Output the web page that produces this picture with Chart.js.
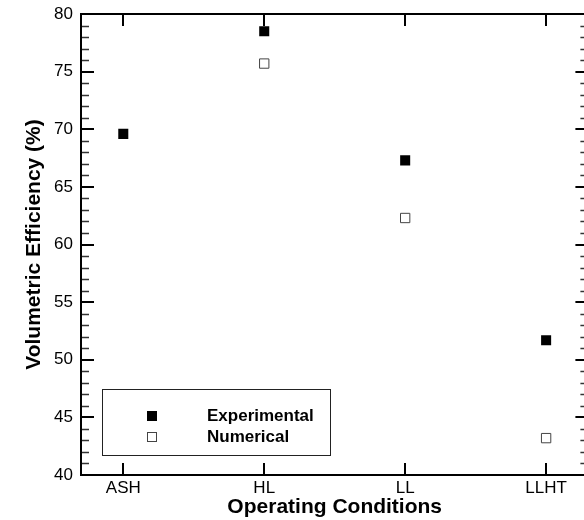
<!DOCTYPE html>
<html>
<head>
<meta charset="utf-8">
<script src="https://cdn.jsdelivr.net/npm/chart.js@4.4.0/dist/chart.umd.min.js"></script>
<style>
  html, body { margin: 0; padding: 0; background: #fff; overflow: hidden; }
  canvas { display: block; }
</style>
</head>
<body>
<canvas id="effChart" width="596" height="520"></canvas>
<script>
// data
const conditions = ['ASH', 'HL', 'LL', 'LLHT'];
const conditionPos = [1, 2, 3, 4];
const experimental = [69.6, 78.5, 67.3, 51.7];
const numerical = [null, 75.7, 62.3, 43.2];   // ASH numerical not visible (hidden / missing)
const yMin = 40, yMax = 80, yStep = 5, yMinorStep = 1;

const seriesNames = ['Experimental', 'Numerical'];

function toPoints(vals) {
    return conditionPos.map((p, i) => ({ x: p, y: vals[i] }));
}

// frame with inward ticks on all four sides + boxed legend
const frameTicks = {
    id: 'frameTicks',
    afterDatasetsDraw(chart) {
        const { ctx, chartArea: a, scales: { x, y } } = chart;
        ctx.save();

        // minor y ticks
        ctx.lineWidth = 1.5;
        ctx.strokeStyle = '#333';
        for (let v = yMin; v <= yMax; v += yMinorStep) {
            if (v % yStep === 0) continue;
            const py = Math.round(y.getPixelForValue(v)) + 0.5;
            ctx.beginPath();
            ctx.moveTo(a.left, py); ctx.lineTo(a.left + 8, py);
            ctx.moveTo(a.right, py); ctx.lineTo(a.right - 8, py);
            ctx.stroke();
        }

        // major y ticks
        ctx.strokeStyle = '#000';
        ctx.lineWidth = 2;
        y.ticks.forEach(t => {
            const py = Math.round(y.getPixelForValue(t.value));
            ctx.beginPath();
            ctx.moveTo(a.left, py); ctx.lineTo(a.left + 13, py);
            ctx.moveTo(a.right, py); ctx.lineTo(a.right - 13, py);
            ctx.stroke();
        });

        // x ticks, top and bottom
        conditionPos.forEach(p => {
            const px = Math.round(x.getPixelForValue(p));
            ctx.beginPath();
            ctx.moveTo(px, a.top); ctx.lineTo(px, a.top + 12);
            ctx.moveTo(px, a.bottom); ctx.lineTo(px, a.bottom - 12);
            ctx.stroke();
        });

        // frame
        ctx.lineWidth = 2;
        ctx.strokeRect(Math.round(a.left), Math.round(a.top), Math.round(a.right - a.left), Math.round(a.bottom - a.top));

        // legend box
        const bx = a.left + 21, by = a.bottom - 86;
        ctx.lineWidth = 1;
        ctx.strokeStyle = '#222';
        ctx.fillStyle = '#fff';
        ctx.fillRect(bx, by, 228, 66);
        ctx.strokeRect(bx + 0.5, by + 0.5, 228, 66);

        const mx = a.left + 71;
        const rows = [a.bottom - 59, a.bottom - 38];
        ctx.fillStyle = '#000';
        ctx.fillRect(mx - 5, rows[0] - 5, 10, 10);
        ctx.strokeStyle = '#444';
        ctx.strokeRect(mx - 4.5, rows[1] - 4.5, 9, 9);

        ctx.fillStyle = '#000';
        ctx.font = 'bold 17px "Liberation Sans", Arial, sans-serif';
        ctx.textBaseline = 'middle';
        ctx.textAlign = 'left';
        seriesNames.forEach((n, i) => ctx.fillText(n, a.left + 126, rows[i]));
        ctx.restore();
    }
};

const ctx = document.getElementById('effChart').getContext('2d');

const effChart = new Chart(ctx, {
    type: 'scatter',
    data: {
        datasets: [
            {
                label: seriesNames[1],
                data: toPoints(numerical),
                pointStyle: 'rect',
                pointRadius: 6.6,
                backgroundColor: '#fff',
                borderColor: '#444',
                borderWidth: 1
            },
            {
                label: seriesNames[0],
                data: toPoints(experimental),
                pointStyle: 'rect',
                pointRadius: 7.1,
                backgroundColor: '#000',
                borderColor: '#000',
                borderWidth: 0
            }
        ]
    },
    options: {
        responsive: false,
        animation: false,
        layout: { padding: { left: 0, right: 2, top: 14, bottom: 0 } },
        plugins: {
            legend: { display: false },
            tooltip: { enabled: false }
        },
        scales: {
            x: {
                type: 'linear',
                min: 0.7,
                max: 4.3,
                grid: { display: false, drawTicks: false, tickLength: 0 },
                border: { display: false },
                afterBuildTicks: scale => {
                    scale.ticks = conditionPos.map(v => ({ value: v }));
                },
                afterFit: scale => {
                    scale.height = 45;
                    scale.paddingLeft = 0;
                    scale.paddingRight = 0;
                },
                ticks: {
                    padding: 3,
                    color: '#000',
                    font: { family: '"Liberation Sans", Arial, sans-serif', size: 17 },
                    callback: (v) => conditions[conditionPos.indexOf(v)] || ''
                },
                title: {
                    display: true,
                    text: 'Operating Conditions',
                    color: '#000',
                    padding: { top: 0, bottom: 0 },
                    font: { family: '"Liberation Sans", Arial, sans-serif', size: 21, weight: 'bold' }
                }
            },
            y: {
                min: yMin,
                max: yMax,
                grid: { display: false, drawTicks: false, tickLength: 0 },
                border: { display: false },
                afterFit: scale => {
                    scale.width = 81;
                    scale.paddingTop = 0;
                    scale.paddingBottom = 0;
                },
                ticks: {
                    stepSize: yStep,
                    padding: 8,
                    color: '#000',
                    font: { family: '"Liberation Sans", Arial, sans-serif', size: 17 }
                },
                title: {
                    display: true,
                    text: 'Volumetric Efficiency (%)',
                    color: '#000',
                    padding: { top: 22, bottom: 0 },
                    font: { family: '"Liberation Sans", Arial, sans-serif', size: 21, weight: 'bold' }
                }
            }
        }
    },
    plugins: [frameTicks]
});
</script>
</body>
</html>
